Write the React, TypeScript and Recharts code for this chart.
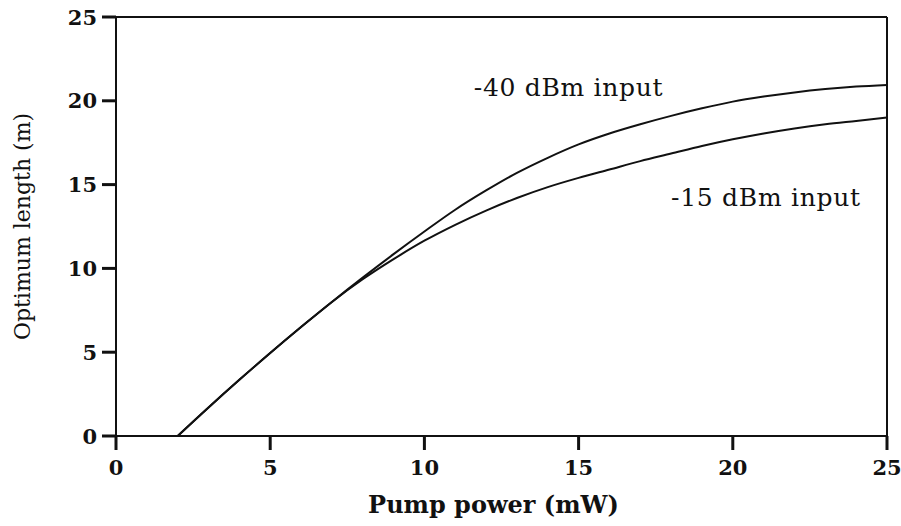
import React from 'react';
import {
    LineChart,
    Line,
    XAxis,
    YAxis,
    ReferenceLine,
    ReferenceDot
} from 'recharts';

// Pump power (mW)
const pumpPower = [2, 3, 4, 5, 6, 7, 8, 9, 10, 11, 12, 13, 14, 15, 16, 17, 18, 19, 20, 21, 22, 23, 24, 25];
// Optimum length (m) for each input level
const lengthMinus40 = [0, 1.7, 3.35, 4.95, 6.5, 8.0, 9.45, 10.85, 12.2, 13.5, 14.65, 15.7, 16.6, 17.4, 18.05, 18.6, 19.1, 19.55, 19.95, 20.25, 20.5, 20.7, 20.85, 20.95];
const lengthMinus15 = [0, 1.7, 3.35, 4.95, 6.5, 8.0, 9.35, 10.55, 11.65, 12.6, 13.45, 14.2, 14.85, 15.4, 15.9, 16.4, 16.85, 17.3, 17.7, 18.05, 18.35, 18.6, 18.8, 19.0];

const xTicks = [0, 5, 10, 15, 20, 25];
const yTicks = [0, 5, 10, 15, 20, 25];

// curve annotations: position in data units (start of text, baseline)
const annotations = [
    { x: 11.6, y: 20.3, text: '-40 dBm input' },
    { x: 18.0, y: 13.7, text: '-15 dBm input' }
];

const INK = '#111';
const FONT = '"DejaVu Serif", serif';
const TICK_SIZE = 14;
const X_TICK_MARGIN = 9;
const Y_TICK_MARGIN = 5;

const chartData = pumpPower.map((p, i) => ({
    p,
    m40: lengthMinus40[i],
    m15: lengthMinus15[i]
}));

// tick label plus its outside tick mark
const XTick = ({ x, y, payload }: any) => (
    <g>
        <line x1={x} x2={x} y1={y - X_TICK_MARGIN - TICK_SIZE} y2={y - X_TICK_MARGIN} stroke={INK} strokeWidth={3} />
        <text x={x} y={y} dy="0.75em" textAnchor="middle" fill={INK} fontSize={21} fontWeight="bold" fontFamily={FONT}>
            {payload.value}
        </text>
    </g>
);

const YTick = ({ x, y, payload }: any) => (
    <g>
        <line x1={x + Y_TICK_MARGIN} x2={x + Y_TICK_MARGIN + TICK_SIZE} y1={y} y2={y} stroke={INK} strokeWidth={3} />
        <text x={x} y={y} dy="0.36em" textAnchor="end" fill={INK} fontSize={21} fontWeight="bold" fontFamily={FONT}>
            {payload.value}
        </text>
    </g>
);

export default function App() {
    const AnnotationText = (text: string) => (props: any) => {
        const { viewBox } = props;
        return (
            <text x={viewBox.x} y={viewBox.y} fill={INK} fontSize={25} letterSpacing={0.7} fontFamily={FONT}>
                {text}
            </text>
        );
    };

    const axisStroke = { stroke: INK, strokeWidth: 2 };

    return (
        <div style={{ position: 'absolute', left: 0, top: 0, background: '#fff' }}>
            <LineChart
                width={901}
                height={526}
                data={chartData}
                margin={{ top: 17, right: 14, left: 0, bottom: 0 }}
            >
                <XAxis
                    dataKey="p"
                    type="number"
                    domain={[0, 25]}
                    ticks={xTicks}
                    height={90}
                    axisLine={axisStroke}
                    tickLine={false}
                    tickSize={TICK_SIZE}
                    tickMargin={X_TICK_MARGIN}
                    tick={<XTick />}
                    label={{
                        value: 'Pump power (mW)',
                        position: 'insideBottom',
                        offset: 13,
                        dx: -8,
                        fill: INK,
                        fontSize: 24,
                        fontWeight: 'bold',
                        fontFamily: FONT
                    }}
                />
                <YAxis
                    type="number"
                    domain={[0, 25]}
                    ticks={yTicks}
                    width={116}
                    axisLine={axisStroke}
                    tickLine={false}
                    tickSize={TICK_SIZE}
                    tickMargin={Y_TICK_MARGIN}
                    tick={<YTick />}
                    label={{
                        value: 'Optimum length (m)',
                        angle: -90,
                        position: 'insideLeft',
                        offset: 22,
                        fill: INK,
                        fontSize: 22,
                        fontFamily: FONT,
                        style: { textAnchor: 'middle' }
                    }}
                />
                {/* frame: top and right sides */}
                <ReferenceLine y={25} stroke={INK} strokeWidth={2} />
                <ReferenceLine x={25} stroke={INK} strokeWidth={2} />
                <Line
                    type="monotone"
                    dataKey="m40"
                    stroke={INK}
                    strokeWidth={2}
                    dot={false}
                    isAnimationActive={false}
                />
                <Line
                    type="monotone"
                    dataKey="m15"
                    stroke={INK}
                    strokeWidth={2}
                    dot={false}
                    isAnimationActive={false}
                />
                {annotations.map(a => (
                    <ReferenceDot
                        key={a.text}
                        x={a.x}
                        y={a.y}
                        r={0}
                        fill="none"
                        stroke="none"
                        label={{ content: AnnotationText(a.text) }}
                    />
                ))}
            </LineChart>
        </div>
    );
}
